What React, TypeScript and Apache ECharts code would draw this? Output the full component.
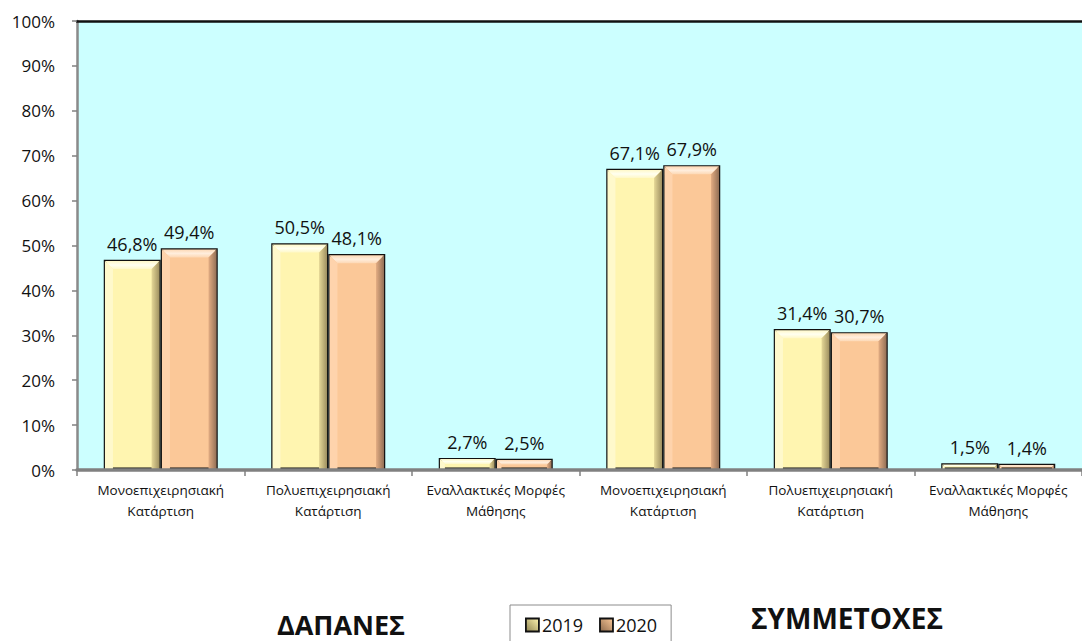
import React, { useEffect, useRef } from "react";
import * as echarts from "echarts";

const categories = [
  "Μονοεπιχειρησιακή\nΚατάρτιση",
  "Πολυεπιχειρησιακή\nΚατάρτιση",
  "Εναλλακτικές Μορφές\nΜάθησης",
  "Μονοεπιχειρησιακή\nΚατάρτιση",
  "Πολυεπιχειρησιακή\nΚατάρτιση",
  "Εναλλακτικές Μορφές\nΜάθησης",
];
const values2019 = [46.8, 50.5, 2.7, 67.1, 31.4, 1.5];
const values2020 = [49.4, 48.1, 2.5, 67.9, 30.7, 1.4];
const seriesNames = ["2019", "2020"];
const groupTitles = ["ΔΑΠΑΝΕΣ", "ΣΥΜΜΕΤΟΧΕΣ"];

const FONT = "'Open Sans', 'Noto Sans', sans-serif";
const BAR_W = 57;

const fmt = (v: number) => v.toFixed(1).replace(".", ",") + "%";

function hgrad(stops: [number, string][]) {
  return new echarts.graphic.LinearGradient(
    0, 0, 1, 0,
    stops.map(([offset, color]) => ({ offset, color }))
  );
}
function vgrad(stops: [number, string][]) {
  return new echarts.graphic.LinearGradient(
    0, 0, 0, 1,
    stops.map(([offset, color]) => ({ offset, color }))
  );
}

type Pal = { face: string; top0: string; top1: string; left: string; right0: string; right1: string };
const pal2019: Pal = { face: "#FFF5B0", top0: "#FFFFF0", top1: "#FFF8C8", left: "#FFF9CC", right0: "#E6D897", right1: "#9E8F60" };
const pal2020: Pal = { face: "#FBC898", top0: "#FFEEDD", top1: "#FDD8B4", left: "#FED3AC", right0: "#E2AC82", right1: "#937056" };

function bevelSeries(name: string, values: number[], offset: number, p: Pal) {
  return {
    name,
    type: "custom",
    xAxisIndex: 0,
    yAxisIndex: 0,
    z: 3,
    silent: true,
    encode: { x: 0, y: 1 },
    data: values.map((v, i) => [i, v]),
    renderItem: (_params: any, api: any) => {
      const idx = api.value(0);
      const v = api.value(1);
      const t = api.coord([idx, v]);
      const b0 = api.coord([idx, 0]);
      const x0 = t[0] + offset + 1.2;
      const x1 = x0 + BAR_W - 2.4;
      const y0 = t[1] + 1.2;
      const yb = b0[1] - 1;
      const h = yb - y0;
      const b = Math.max(0, Math.min(8, h / 2));
      if (h <= 0) return { type: "group", children: [] };
      return {
        type: "group",
        children: [
          {
            type: "polygon",
            shape: { points: [[x0, y0], [x1, y0], [x1 - b, y0 + b], [x0 + b, y0 + b]] },
            style: { fill: vgrad([[0, p.top1], [0.5, p.top0], [1, p.top1]]) },
          },
          {
            type: "polygon",
            shape: { points: [[x0, y0], [x0 + b, y0 + b], [x0 + b, yb], [x0, yb]] },
            style: { fill: p.left },
          },
          {
            type: "polygon",
            shape: { points: [[x1, y0], [x1, yb], [x1 - b, yb], [x1 - b, y0 + b]] },
            style: { fill: hgrad([[0, p.right0], [1, p.right1]]) },
          },
        ],
      };
    },
  };
}

export default function App() {
  const ref = useRef<HTMLDivElement>(null);
  useEffect(() => {
    if (!ref.current) return;
    const chart = echarts.init(ref.current, null, { renderer: "svg" });
    const labelCfg = {
      show: true,
      position: "top" as const,
      distance: 7,
      fontFamily: FONT,
      fontSize: 18,
      color: "#111",
      formatter: (p: any) => fmt(p.value),
    };
    const titleStyle = {
      fontFamily: FONT,
      fontSize: 27,
      fontWeight: "bold",
      fill: "#111",
      textAlign: "center",
      textVerticalAlign: "middle",
    };
    const legendIcon = (a: string, b: string) =>
      new echarts.graphic.LinearGradient(0, 1, 1, 0, [
        { offset: 0, color: a },
        { offset: 1, color: b },
      ]);
    chart.setOption({
      animation: false,
      grid: {
        left: 77,
        top: 21,
        right: -12,
        bottom: 171,
        show: true,
        backgroundColor: "#CCFFFF",
        borderWidth: 0,
      },
      legend: {
        data: [
          { name: seriesNames[0], itemStyle: { color: legendIcon("#8E8350", "#FFF5B0") } },
          { name: seriesNames[1], itemStyle: { color: legendIcon("#8E6A4C", "#FBC898") } },
        ],
        left: 510,
        top: 605,
        orient: "horizontal",
        icon: "rect",
        itemWidth: 13,
        itemHeight: 13,
        itemGap: 16,
        padding: [11, 14, 30, 15],
        borderColor: "#8C8C8C",
        borderWidth: 1,
        borderRadius: 0,
        textStyle: { fontFamily: FONT, fontSize: 18, color: "#111", padding: [0, 0, 0, -2] },
        itemStyle: { borderColor: "#111", borderWidth: 1.8 },
      },
      xAxis: [
        {
          type: "category",
          data: categories,
          z: 6,
          axisLine: { lineStyle: { color: "#808080", width: 3.5 } },
          axisTick: { show: true, interval: 0, length: 6, lineStyle: { color: "#808080", width: 1.5 } },
          axisLabel: {
            interval: 0,
            margin: 9,
            fontFamily: FONT,
            fontSize: 13.5,
            lineHeight: 21,
            color: "#111",
          },
        },
        {
          type: "category",
          data: categories,
          position: "top",
          z: 6,
          axisLine: { show: true, lineStyle: { color: "#111", width: 2.5 } },
          axisTick: { show: false },
          axisLabel: { show: false },
        },
      ],
      yAxis: {
        type: "value",
        min: 0,
        max: 100,
        interval: 10,
        z: 6,
        splitLine: { show: false },
        axisLine: { show: true, lineStyle: { color: "#8A8A8A", width: 2.5 } },
        axisTick: { show: true, length: 5, lineStyle: { color: "#808080", width: 1.5 } },
        axisLabel: {
          margin: 22,
          fontFamily: FONT,
          fontSize: 17,
          color: "#111",
          formatter: (v: number) => v + "%",
        },
      },
      series: [
        {
          name: seriesNames[0],
          type: "bar",
          data: values2019,
          barWidth: BAR_W,
          barGap: "0%",
          itemStyle: { color: pal2019.face, borderColor: "#111", borderWidth: 2.4 },
          label: labelCfg,
        },
        {
          name: seriesNames[1],
          type: "bar",
          data: values2020,
          barWidth: BAR_W,
          barGap: "0%",
          itemStyle: { color: pal2020.face, borderColor: "#111", borderWidth: 2.4 },
          label: labelCfg,
        },
        bevelSeries("bevel2019", values2019, -BAR_W, pal2019),
        bevelSeries("bevel2020", values2020, 0, pal2020),
      ],
      graphic: [
        { type: "text", x: 341, y: 624, style: { ...titleStyle, text: groupTitles[0] } },
        { type: "text", x: 847, y: 618, style: { ...titleStyle, fontSize: 28, text: groupTitles[1] } },
      ],
    });
    return () => chart.dispose();
  }, []);
  return (
    <div
      ref={ref}
      style={{ position: "fixed", left: 0, top: 0, width: 1082, height: 641, background: "#fff" }}
    />
  );
}
